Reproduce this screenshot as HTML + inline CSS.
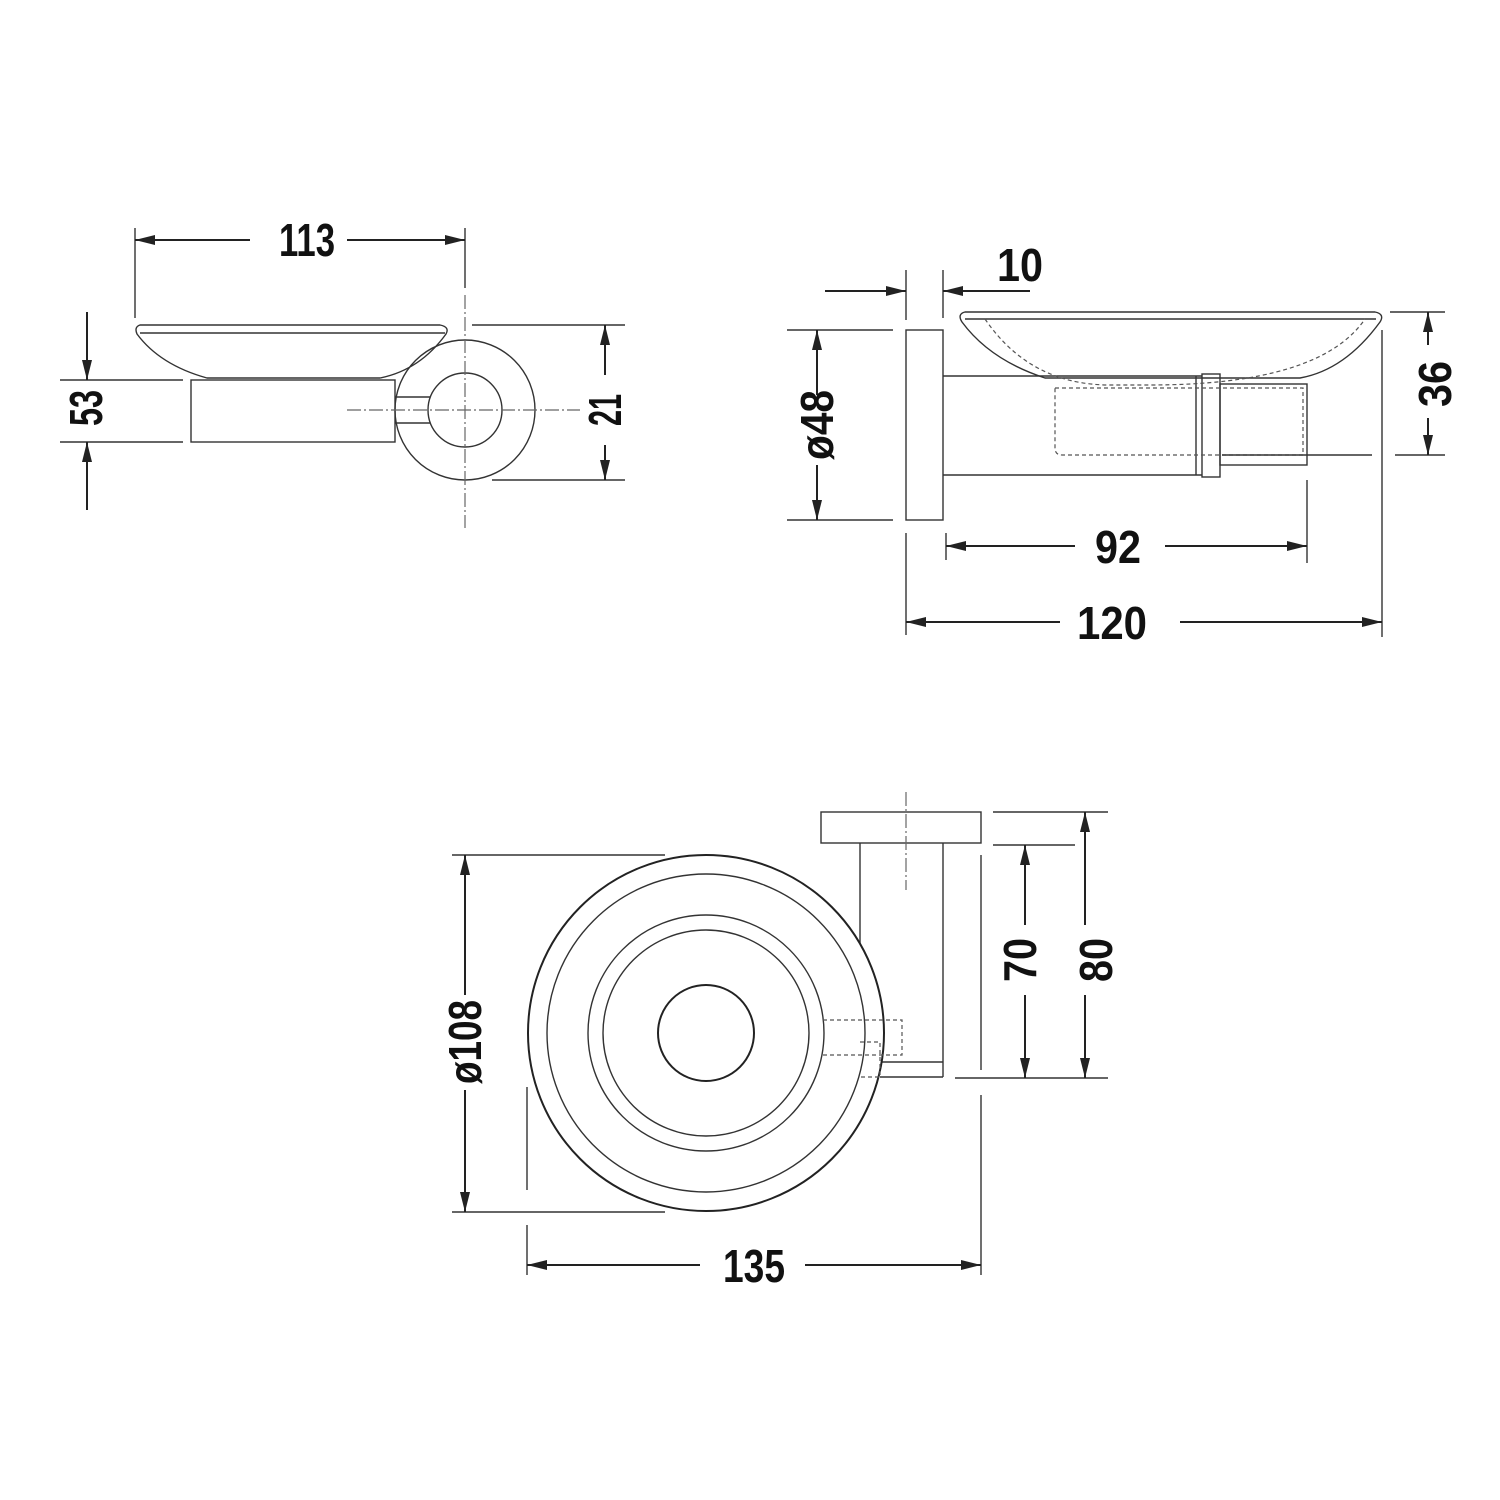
<!DOCTYPE html>
<html><head><meta charset="utf-8"><style>html,body{margin:0;padding:0;background:#fff}svg{display:block}</style></head>
<body>
<svg width="1500" height="1500" viewBox="0 0 1500 1500" xmlns="http://www.w3.org/2000/svg">
<defs>
<marker id="a" viewBox="0 0 20 10" refX="20" refY="5" markerWidth="20" markerHeight="10" markerUnits="userSpaceOnUse" orient="auto" preserveAspectRatio="none"><path d="M0,0L20,5L0,10z" fill="#222"/></marker>
</defs>
<style>
.l{stroke:#222;stroke-width:2;fill:none}
.t{stroke:#333;stroke-width:1.4;fill:none}
.d{stroke:#555;stroke-width:1.2;fill:none;stroke-dasharray:4 3}
.c{stroke:#666;stroke-width:1.2;fill:none;stroke-dasharray:14 3 2 3}
.x{font-family:"Liberation Sans",sans-serif;font-weight:bold;font-size:46px;fill:#111;text-anchor:middle}
</style>
<!-- TOP LEFT -->
<line class="t" x1="135" y1="228" x2="135" y2="318"/>
<line class="t" x1="465" y1="228" x2="465" y2="288"/>
<line class="l" x1="250" y1="240" x2="135" y2="240" marker-end="url(#a)"/>
<line class="l" x1="347" y1="240" x2="465" y2="240" marker-end="url(#a)"/>
<text class="x" x="307" y="256" textLength="56" lengthAdjust="spacingAndGlyphs">113</text>
<path class="t" d="M140,325 L440,325 Q450,327 446,334 Q420,370 380,378 L207,378 Q160,365 137,334 Q134,327 140,325 Z"/>
<line class="t" x1="140" y1="333" x2="445" y2="333"/>
<rect class="t" x="191" y="380" width="204" height="62"/>
<circle class="t" cx="465" cy="410" r="70"/>
<circle class="t" cx="465" cy="410" r="37"/>
<line class="t" x1="395" y1="397" x2="430" y2="397"/>
<line class="t" x1="395" y1="423" x2="430" y2="423"/>
<line class="c" x1="347" y1="410" x2="580" y2="410"/>
<line class="c" x1="465" y1="295" x2="465" y2="528"/>
<line class="t" x1="60" y1="380" x2="183" y2="380"/>
<line class="t" x1="60" y1="442" x2="183" y2="442"/>
<line class="l" x1="87" y1="312" x2="87" y2="380" marker-end="url(#a)"/>
<line class="l" x1="87" y1="510" x2="87" y2="442" marker-end="url(#a)"/>
<text class="x" transform="translate(102,408) rotate(-90)" textLength="36" lengthAdjust="spacingAndGlyphs">53</text>
<line class="t" x1="472" y1="325" x2="625" y2="325"/>
<line class="t" x1="492" y1="480" x2="625" y2="480"/>
<line class="l" x1="605" y1="375" x2="605" y2="325" marker-end="url(#a)"/>
<line class="l" x1="605" y1="445" x2="605" y2="480" marker-end="url(#a)"/>
<text class="x" transform="translate(621,410) rotate(-90)" textLength="32" lengthAdjust="spacingAndGlyphs">21</text>
<!-- TOP RIGHT -->
<rect class="t" x="906" y="330" width="37" height="190"/>
<line class="t" x1="906" y1="270" x2="906" y2="320"/>
<line class="t" x1="943" y1="270" x2="943" y2="318"/>
<line class="l" x1="825" y1="291" x2="906" y2="291" marker-end="url(#a)"/>
<line class="l" x1="1030" y1="291" x2="943" y2="291" marker-end="url(#a)"/>
<text class="x" x="1020" y="281" textLength="46" lengthAdjust="spacingAndGlyphs">10</text>
<line class="t" x1="787" y1="330" x2="893" y2="330"/>
<line class="t" x1="787" y1="520" x2="893" y2="520"/>
<line class="l" x1="817" y1="395" x2="817" y2="330" marker-end="url(#a)"/>
<line class="l" x1="817" y1="465" x2="817" y2="520" marker-end="url(#a)"/>
<text class="x" transform="translate(833,425) rotate(-90)" textLength="70" lengthAdjust="spacingAndGlyphs">ø48</text>
<line class="t" x1="943" y1="376" x2="1202" y2="376"/>
<line class="t" x1="943" y1="475" x2="1202" y2="475"/>
<rect class="t" x="1202" y="374" width="18" height="103"/>
<line class="t" x1="1196" y1="376" x2="1196" y2="475"/>
<rect class="t" x="1220" y="384" width="87" height="81"/>
<path class="t" d="M965,312 L1375,312 Q1385,314 1380,322 Q1345,370 1300,378 L1045,378 Q990,360 962,322 Q957,314 965,312 Z"/>
<line class="t" x1="965" y1="319" x2="1376" y2="319"/>
<path class="d" d="M985,319 Q1030,385 1110,385 L1150,385 Q1320,385 1365,319"/>
<path class="d" d="M1055,388 L1303,388 L1303,455 L1062,455 Q1055,455 1055,448 Z"/>
<line class="t" x1="1222" y1="455" x2="1372" y2="455"/>
<line class="t" x1="1390" y1="312" x2="1445" y2="312"/>
<line class="t" x1="1395" y1="455" x2="1445" y2="455"/>
<line class="l" x1="1428" y1="345" x2="1428" y2="312" marker-end="url(#a)"/>
<line class="l" x1="1428" y1="418" x2="1428" y2="455" marker-end="url(#a)"/>
<text class="x" transform="translate(1451,384) rotate(-90)" textLength="46" lengthAdjust="spacingAndGlyphs">36</text>
<line class="t" x1="946" y1="533" x2="946" y2="560"/>
<line class="t" x1="1307" y1="480" x2="1307" y2="563"/>
<line class="l" x1="1075" y1="546" x2="946" y2="546" marker-end="url(#a)"/>
<line class="l" x1="1165" y1="546" x2="1307" y2="546" marker-end="url(#a)"/>
<text class="x" x="1118" y="563" textLength="46" lengthAdjust="spacingAndGlyphs">92</text>
<line class="t" x1="906" y1="533" x2="906" y2="635"/>
<line class="t" x1="1382" y1="330" x2="1382" y2="637"/>
<line class="l" x1="1060" y1="622" x2="906" y2="622" marker-end="url(#a)"/>
<line class="l" x1="1180" y1="622" x2="1382" y2="622" marker-end="url(#a)"/>
<text class="x" x="1112" y="639" textLength="70" lengthAdjust="spacingAndGlyphs">120</text>
<!-- BOTTOM -->
<rect class="t" x="821" y="812" width="160" height="31"/>
<line class="t" x1="860" y1="843" x2="860" y2="1060"/>
<line class="t" x1="943" y1="843" x2="943" y2="1077"/>
<line class="c" x1="906" y1="792" x2="906" y2="890"/>
<line class="t" x1="880" y1="1062" x2="943" y2="1062"/>
<line class="t" x1="880" y1="1077" x2="943" y2="1077"/>
<circle cx="706" cy="1033" r="178" fill="#fff" stroke="#222" stroke-width="2"/>
<circle class="t" cx="706" cy="1033" r="159"/>
<circle class="t" cx="706" cy="1033" r="118"/>
<circle class="t" cx="706" cy="1033" r="103"/>
<circle class="l" cx="706" cy="1033" r="48"/>
<path class="d" d="M823,1020 L902,1020 L902,1055 L823,1055 M860,1042 L880,1042 L880,1077 L860,1077"/>
<line class="t" x1="452" y1="855" x2="665" y2="855"/>
<line class="t" x1="452" y1="1212" x2="665" y2="1212"/>
<line class="l" x1="465" y1="995" x2="465" y2="855" marker-end="url(#a)"/>
<line class="l" x1="465" y1="1090" x2="465" y2="1212" marker-end="url(#a)"/>
<text class="x" transform="translate(481,1042) rotate(-90)" textLength="84" lengthAdjust="spacingAndGlyphs">ø108</text>
<line class="t" x1="993" y1="812" x2="1108" y2="812"/>
<line class="t" x1="993" y1="845" x2="1075" y2="845"/>
<line class="t" x1="955" y1="1078" x2="1108" y2="1078"/>
<line class="l" x1="1025" y1="925" x2="1025" y2="845" marker-end="url(#a)"/>
<line class="l" x1="1025" y1="995" x2="1025" y2="1078" marker-end="url(#a)"/>
<text class="x" transform="translate(1036,960) rotate(-90)" textLength="44" lengthAdjust="spacingAndGlyphs">70</text>
<line class="l" x1="1085" y1="925" x2="1085" y2="812" marker-end="url(#a)"/>
<line class="l" x1="1085" y1="995" x2="1085" y2="1078" marker-end="url(#a)"/>
<text class="x" transform="translate(1112,960) rotate(-90)" textLength="44" lengthAdjust="spacingAndGlyphs">80</text>
<line class="t" x1="981" y1="855" x2="981" y2="1070"/>
<line class="t" x1="981" y1="1095" x2="981" y2="1275"/>
<line class="t" x1="527" y1="1087" x2="527" y2="1190"/>
<line class="t" x1="527" y1="1225" x2="527" y2="1275"/>
<line class="l" x1="700" y1="1265" x2="527" y2="1265" marker-end="url(#a)"/>
<line class="l" x1="805" y1="1265" x2="981" y2="1265" marker-end="url(#a)"/>
<text class="x" x="754" y="1282" textLength="62" lengthAdjust="spacingAndGlyphs">135</text>
</svg>
</body></html>
